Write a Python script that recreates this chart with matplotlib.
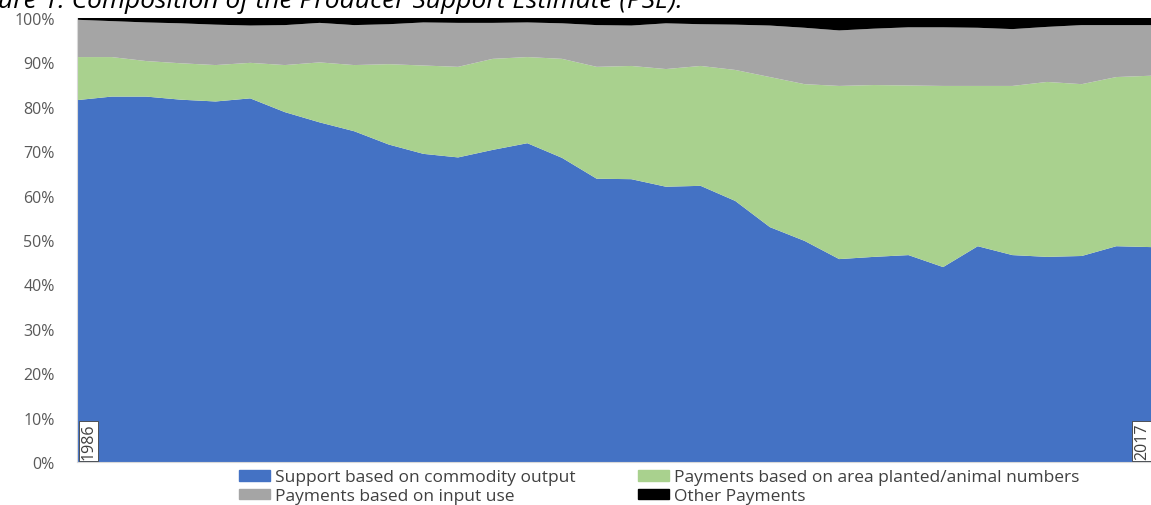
import numpy as np
import matplotlib
matplotlib.use('Agg')
from matplotlib import pyplot as plt
from matplotlib.patches import Patch
from matplotlib.ticker import PercentFormatter

years = list(range(1986, 2018))

# shares of PSE (%)
commodity_output = [81.5, 82.3, 82.3, 81.6, 81.2, 81.9, 78.8, 76.5, 74.5, 71.5, 69.4,
                    68.6, 70.3, 71.8, 68.5, 63.8, 63.7, 62.0, 62.2, 58.8, 52.9, 49.8,
                    45.7, 46.2, 46.6, 43.9, 48.6, 46.6, 46.2, 46.4, 48.6, 48.4]
area_animal = [9.7, 8.9, 8.0, 8.2, 8.2, 8.0, 10.6, 13.5, 14.9, 18.1, 19.9,
               20.4, 20.5, 19.4, 22.3, 25.2, 25.5, 26.5, 27.0, 29.5, 33.8, 35.3,
               39.0, 38.7, 38.2, 40.8, 36.1, 38.1, 39.4, 38.7, 38.1, 38.6]
input_use = [8.4, 8.1, 8.7, 9.0, 9.1, 8.4, 9.0, 8.9, 9.0, 9.0, 9.7,
             9.9, 8.1, 7.8, 8.0, 9.4, 9.1, 10.3, 9.4, 10.2, 11.6, 12.7,
             12.5, 12.7, 13.1, 13.2, 13.1, 12.8, 12.4, 13.3, 11.7, 11.4]
other = [0.4, 0.7, 1.0, 1.2, 1.5, 1.7, 1.6, 1.1, 1.6, 1.4, 1.0,
         1.1, 1.1, 1.0, 1.2, 1.6, 1.7, 1.2, 1.4, 1.5, 1.7, 2.2,
         2.8, 2.4, 2.1, 2.1, 2.2, 2.5, 2.0, 1.6, 1.6, 1.6]

labels = ['Support based on commodity output',
          'Payments based on area planted/animal numbers',
          'Payments based on input use',
          'Other Payments']
colors = ['#4472C4', '#A9D18E', '#A5A5A5', '#000000']

plt.rcParams['font.family'] = ['Open Sans', 'DejaVu Sans']

W, H = 1151, 506
fig = plt.figure(figsize=(W / 100, H / 100), dpi=100)
ax = fig.add_axes([77 / W, 1 - 463 / H, 1 - 77 / W, (463 - 19) / H])

ax.stackplot(years, commodity_output, area_animal, input_use, other,
             colors=colors, linewidth=0)

ax.set_xlim(years[0], years[-1])
ax.set_ylim(0, 100)
ax.set_yticks(np.arange(0, 101, 10))
ax.yaxis.set_major_formatter(PercentFormatter(decimals=0))
ax.set_xticks([])
ax.tick_params(axis='y', length=0, pad=16, labelsize=11.5, labelcolor='#595959')
for s in ['top', 'right']:
    ax.spines[s].set_visible(False)
for s in ['left', 'bottom']:
    ax.spines[s].set_color('#D9D9D9')

# first / last year data labels
box = dict(boxstyle='square,pad=0.12', fc='white', ec='#404040', lw=0.6)
ax.text(years[0] + 0.1, 0.6, str(years[0]), rotation=90, ha='left', va='bottom',
        fontsize=11.5, color='#404040', bbox=box)
ax.text(years[-1] - 0.03, 0.6, str(years[-1]), rotation=90, ha='right', va='bottom',
        fontsize=11.5, color='#404040', bbox=box)

fig.text(-35 / W, 1 - 8 / H, 'Figure 1: Composition of the Producer Support Estimate (PSE).',
         fontsize=19, style='italic', ha='left', va='baseline', color='black')

handles = [Patch(color=colors[0]), Patch(color=colors[2]),
           Patch(color=colors[1]), Patch(color=colors[3])]
leg_labels = [labels[0], labels[2], labels[1], labels[3]]
fig.legend(handles, leg_labels, ncol=2, loc='upper left',
           bbox_to_anchor=(236 / W, 1 - 467 / H), frameon=False,
           fontsize=12.5, labelcolor='#404040', handlelength=1.75, handleheight=0.55,
           handletextpad=0.3, columnspacing=3.6, labelspacing=0.15,
           borderaxespad=0, borderpad=0.2)

fig.savefig('out.png', dpi=100)
